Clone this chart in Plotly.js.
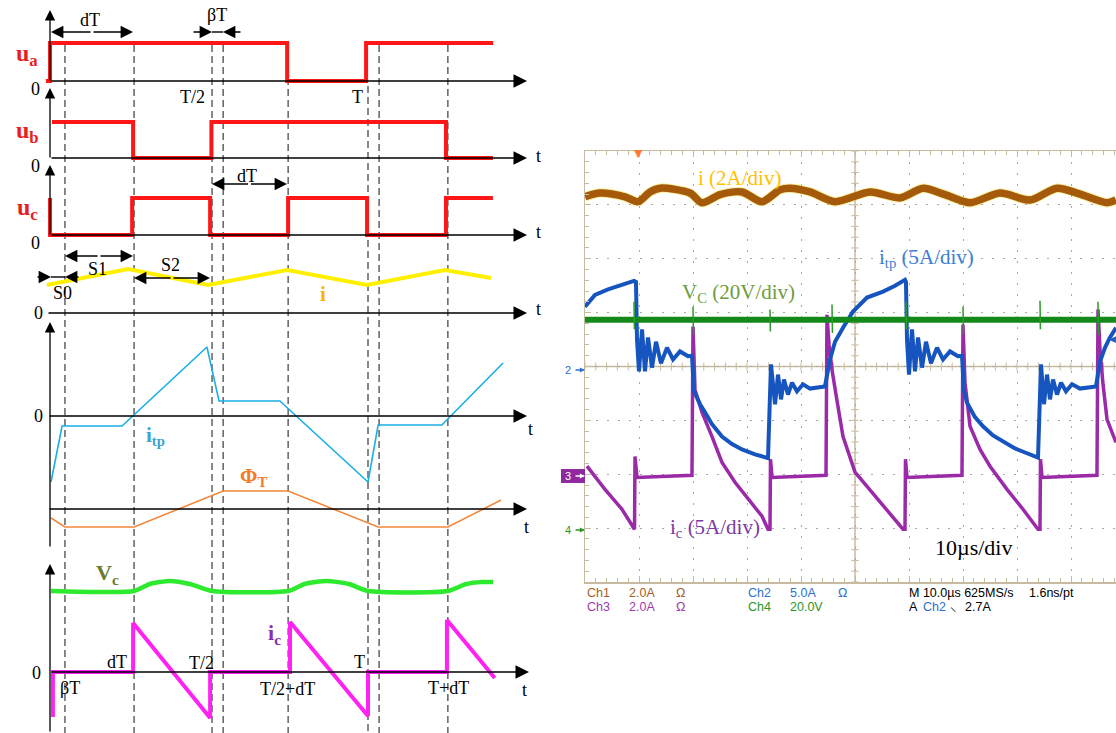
<!DOCTYPE html>
<html><head><meta charset="utf-8">
<script src="https://cdn.plot.ly/plotly-3.0.1.min.js"></script>
<style>html,body{margin:0;padding:0;background:#fff}#chart{width:1116px;height:733px}</style>
</head><body><div id="chart"></div>
<script>
// ===== Schematic timing diagram (time in units of the period T) =====
const markTimes = [0.044, 0.262, 0.508, 0.543, 0.748, 1.0, 1.035, 1.252];

const uaT = [-0.016, -0.003, -0.003, 0.745, 0.745, 0.994, 0.994, 1.395];
const uaV = [0, 0, 1, 1, 0, 0, 1, 1];
const ubT = [0.003, 0.259, 0.259, 0.506, 0.506, 1.246, 1.246, 1.394];
const ubV = [1, 1, 0, 0, 1, 1, 0, 0];
const ucT = [-0.003, -0.003, 0.256, 0.256, 0.502, 0.502, 0.748, 0.748, 0.997, 0.997, 1.246, 1.246, 1.394];
const ucV = [1, 0, 0, 1, 1, 0, 0, 1, 1, 0, 0, 1, 1];
const iT = [-0.013, 0.243, 0.495, 0.745, 0.997, 1.243, 1.388];
const iV = [2.8, 4.4, 2.8, 4.3, 2.8, 4.3, 3.5];
const itpT = [0, 0.035, 0.224, 0.492, 0.530, 0.722, 1.0, 1.032, 1.233, 1.426];
const itpV = [-6.6, -1.0, -1.0, 6.9, 1.5, 1.5, -6.6, -0.9, -0.9, 5.3];
const phiT = [0, 0.044, 0.262, 0.543, 0.748, 1.032, 1.252, 1.42];
const phiV = [-0.9, -1.8, -1.8, 1.8, 1.8, -1.8, -1.8, 0.9];
const vcT = [0, 0.262, 0.312, 0.375, 0.438, 0.508, 0.748, 0.80, 0.87, 0.94, 1.0, 1.252, 1.31, 1.36, 1.395];
const vcV = [0, 0, 0.7, 1.0, 0.7, 0, 0, 0.7, 1.0, 0.7, 0, 0, 0.7, 0.9, 0.9];
const icT = [0.006, 0.006, 0.259, 0.259, 0.502, 0.502, 0.754, 0.754, 1.0, 1.0, 1.249, 1.249, 1.40];
const icV = [-4.5, 0, 0, 4.9, -4.6, 0, 0, 5.0, -4.4, 0, 0, 5.2, -0.6];

// ===== Oscilloscope capture (time in µs, amplitude in divisions) =====
const chIT = [0, 2.78, 7.41, 9.81, 12.04, 13.89, 19.44, 21.67, 25.0, 29.07, 32.78, 36.11, 37.96, 41.67, 46.3, 52.78, 58.33, 62.59, 66.67, 71.3, 76.85, 82.41, 87.41, 91.67, 96.67, 98.33];
const chIV = [3.15, 3.22, 3.15, 3.06, 3.24, 3.31, 3.22, 3.04, 3.19, 3.24, 3.06, 3.28, 3.31, 3.24, 3.06, 3.24, 3.13, 3.31, 3.19, 3.04, 3.22, 3.09, 3.31, 3.2, 3.04, 3.09];

const chVcT = [0, 98.33];
const chVcV = [0.87, 0.87];
const chVcSpikeT = [9.07, 9.15, null, 20.0, 20.08, null, 34.26, 34.33, null, 45.74, 45.82, null, 59.44, 59.52, null, 70.0, 70.08, null, 84.26, 84.33, null, 95.0, 95.08];
const chVcSpikeV = [1.2, 0.69, null, 1.11, 0.59, null, 1.06, 0.65, null, 1.15, 0.62, null, 1.2, 0.69, null, 1.11, 0.59, null, 1.22, 0.69, null, 1.2, 0.59];

const chItpT = [0, 1.85, 4.26, 6.85, 9.07, 9.44, 9.63, 10.0, 10.56, 11.11, 11.67, 12.41, 13.15, 14.07, 15.19, 16.30, 17.59, 19.07, 19.81, 20.19, 21.30, 22.22, 23.52, 25.37, 27.22, 29.07, 31.48, 33.89, 34.44, 35.19, 35.74, 36.30, 36.85, 37.59, 38.33, 39.26, 40.37, 41.67, 44.44, 45.37, 46.30, 47.78, 49.63, 52.22, 55.19, 57.41, 59.26, 59.44, 59.63, 60.0, 60.56, 61.11, 61.67, 62.41, 63.15, 64.07, 65.19, 66.30, 67.59, 69.07, 69.81, 70.19, 70.74, 72.22, 73.70, 75.56, 77.41, 79.63, 81.85, 83.89, 84.44, 85.0, 85.56, 86.11, 86.67, 87.41, 88.15, 89.07, 90.19, 91.67, 94.63, 95.37, 96.30, 97.22, 98.33];
const chItpV = [1.11, 1.33, 1.43, 1.52, 1.59, 1.57, 0.50, -0.09, 0.69, -0.09, 0.54, -0.02, 0.46, 0.06, 0.35, 0.13, 0.28, 0.19, 0.20, -0.46, -0.70, -0.85, -1.07, -1.30, -1.44, -1.54, -1.63, -1.70, 0.04, -0.70, -0.15, -0.61, -0.24, -0.52, -0.30, -0.46, -0.33, -0.41, -0.37, 0.13, 0.46, 0.72, 1.02, 1.28, 1.39, 1.50, 1.61, 1.57, 0.50, -0.15, 0.69, -0.09, 0.54, -0.02, 0.46, 0.06, 0.35, 0.13, 0.28, 0.19, 0.20, -0.46, -0.67, -0.94, -1.11, -1.28, -1.39, -1.52, -1.61, -1.69, 0.04, -0.70, -0.15, -0.61, -0.24, -0.52, -0.30, -0.46, -0.33, -0.41, -0.37, 0.09, 0.35, 0.54, 0.72];

const chIcT = [0.37, 3.70, 6.85, 8.89, 9.17, 9.26, 9.63, 19.81, 20.0, 20.37, 21.67, 23.52, 25.37, 27.78, 30.19, 32.78, 33.89, 34.26, 34.35, 34.63, 44.63, 44.81, 45.19, 45.74, 46.48, 47.78, 50.0, 52.22, 55.19, 58.89, 59.26, 59.35, 59.63, 69.81, 70.0, 70.37, 71.30, 73.15, 75.0, 78.15, 81.11, 83.89, 84.26, 84.35, 84.63, 94.81, 95.0, 95.37, 95.93, 96.67, 98.33];
const chIcV = [-1.85, -2.28, -2.65, -2.98, -3.02, -1.67, -2.06, -2.02, 0.74, -0.43, -0.85, -1.30, -1.78, -2.15, -2.46, -2.78, -3.02, -3.02, -1.72, -2.06, -2.02, 0.96, 0.41, -0.06, -0.52, -1.30, -1.96, -2.22, -2.59, -3.02, -3.02, -1.72, -2.06, -2.02, 0.78, -0.30, -1.11, -1.54, -1.85, -2.28, -2.65, -3.02, -3.02, -1.72, -2.06, -2.02, 1.06, 0.31, -0.33, -0.98, -1.41];

// ===== layout helpers =====
const W = 1116, H = 733;
const PX = x => x / W;
const PY = y => 1 - y / H;
const tOf = px => (px - 51) / 317;          // left-diagram pixel -> time units
const rng = (y0, s) => [-(H - y0) / s, y0 / s]; // zero-line pixel, px per unit

const SERIF = 'Liberation Serif, Times New Roman, serif';
const SANS = 'Liberation Sans, Arial, sans-serif';

function line(x, y, yaxis, color, width, extra) {
  return Object.assign({type: 'scatter', mode: 'lines', x: x, y: y, xaxis: 'x', yaxis: yaxis,
    line: {color: color, width: width}, hoverinfo: 'skip'}, extra || {});
}
function sline(x, y, color, width, extra) {
  return Object.assign({type: 'scatter', mode: 'lines', x: x, y: y, xaxis: 'x2', yaxis: 'y9',
    line: {color: color, width: width}, hoverinfo: 'skip', connectgaps: false}, extra || {});
}

const traces = [
  line(uaT, uaV, 'y', '#FF1616', 4),
  line(ubT, ubV, 'y2', '#FF1616', 4),
  line(ucT, ucV, 'y3', '#FF1616', 4),
  line(iT, iV, 'y4', '#FFF000', 4),
  line(itpT, itpV, 'y5', '#1AAEE6', 1.6),
  line(phiT, phiV, 'y6', '#F2873A', 1.6),
  line(vcT, vcV, 'y7', '#2EEA2E', 4.5, {line: {color: '#2EEA2E', width: 4.5, shape: 'spline', smoothing: 0.6}}),
  line(icT, icV, 'y8', '#FF22F2', 4),
  sline(chIcT, chIcV, '#9A2AA8', 3.5),
  sline(chItpT, chItpV, '#1655C0', 4),
  sline(chVcT, chVcV, '#13891A', 6),
  sline(chVcSpikeT, chVcSpikeV, '#2A9A2A', 1.5),
  sline(chIT, chIV, 'rgba(235,215,0,0.35)', 9.5, {line: {color: 'rgba(235,215,0,0.35)', width: 9.5, shape: 'spline', smoothing: 0.8}}),
  sline(chIT, chIV, '#A4590B', 7.5, {line: {color: '#A4590B', width: 7.5, shape: 'spline', smoothing: 0.8}})
];

// ===== shapes =====
const shapes = [];
markTimes.forEach(t => {
  shapes.push({type: 'line', xref: 'x', yref: 'paper', x0: t, x1: t,
    y0: PY(t === 1.0 ? 86 : 45), y1: 0, layer: 'below',
    line: {color: '#3a3a3a', width: 1.2, dash: '7px,4px'}});
});
// connecting segments of inward-pointing dimension arrows
shapes.push({type: 'line', xref: 'x', yref: 'paper', x0: tOf(212), x1: tOf(223), y0: PY(32), y1: PY(32), line: {color: '#000', width: 1.4}});
shapes.push({type: 'line', xref: 'x', yref: 'paper', x0: tOf(51), x1: tOf(65), y0: PY(277), y1: PY(277), line: {color: '#000', width: 1.4}});

// oscilloscope centre cross with tick marks
const TAN = '#C7BB9F';
shapes.push({type: 'line', xref: 'x2', yref: 'y9', x0: 50, x1: 50, y0: -4, y1: 4, line: {color: TAN, width: 1.5}, layer: 'below'});
shapes.push({type: 'line', xref: 'x2', yref: 'y9', x0: 0, x1: 98.33, y0: 0, y1: 0, line: {color: TAN, width: 1.5}, layer: 'below'});
for (let k = -20; k <= 20; k++) {
  shapes.push({type: 'line', xref: 'x2', yref: 'y9', x0: 49.3, x1: 50.7, y0: k * 0.2, y1: k * 0.2, line: {color: TAN, width: 1}, layer: 'below'});
}
for (let k = 0; k <= 49; k++) {
  shapes.push({type: 'line', xref: 'x2', yref: 'y9', x0: k * 2, x1: k * 2, y0: -0.075, y1: 0.075, line: {color: TAN, width: 1}, layer: 'below'});
}
// channel-3 ground marker box
shapes.push({type: 'rect', xref: 'paper', yref: 'paper', x0: PX(561), x1: PX(585), y0: PY(483), y1: PY(469), fillcolor: '#8E2A9E', line: {width: 0}});

// ===== annotations =====
const ann = [];
function txt(x, y, text, size, color, opts) {
  ann.push(Object.assign({xref: 'paper', yref: 'paper', x: PX(x), y: PY(y), text: text, showarrow: false,
    font: {family: SERIF, size: size, color: color}, xanchor: 'center', yanchor: 'middle'}, opts || {}));
}
function harrow(tHead, tTail, ypx, size) {
  ann.push({xref: 'x', yref: 'paper', x: tHead, y: PY(ypx), axref: 'x', ax: tTail, ayref: 'pixel', ay: 0,
    text: '', showarrow: true, arrowhead: 2, arrowsize: size || 1.9, arrowwidth: 1.3, arrowcolor: '#000', standoff: 0, startstandoff: 0});
}
function dim(t0, t1, ypx) { const m = (t0 + t1) / 2; harrow(t0, m, ypx); harrow(t1, m, ypx); }
function axisH(yax, t0, t1) {
  ann.push({xref: 'x', yref: yax, x: t1, y: 0, axref: 'x', ax: t0, ayref: yax, ay: 0,
    text: '', showarrow: true, arrowhead: 2, arrowsize: 1.8, arrowwidth: 1.5, arrowcolor: '#000', standoff: 0, startstandoff: 0});
}
function axisV(tip, tail) {
  ann.push({xref: 'x', yref: 'paper', x: tOf(50), y: PY(tip), axref: 'pixel', ax: 0, ayref: 'pixel', ay: tail - tip,
    text: '', showarrow: true, arrowhead: 2, arrowsize: 1.6, arrowwidth: 1.3, arrowcolor: '#000', standoff: 0, startstandoff: 0});
}

// axes of the timing diagram
axisH('y', tOf(50), tOf(527));
axisH('y2', tOf(50), tOf(527));
axisH('y3', tOf(50), tOf(527));
axisH('y4', tOf(47), tOf(527));
axisH('y5', tOf(48), tOf(527));
axisH('y6', tOf(48), tOf(527));
axisH('y8', tOf(50), tOf(529));
axisV(10, 82); axisV(88, 159); axisV(165, 236); axisV(322, 548); axisV(564, 733);

// dimension arrows
dim(tOf(51), tOf(133), 32);
harrow(tOf(212), tOf(192), 32); harrow(tOf(223), tOf(242), 32);
dim(tOf(212), tOf(287), 184);
dim(tOf(65), tOf(133), 256);
dim(tOf(134), tOf(210), 278);
harrow(tOf(51), tOf(36), 277); harrow(tOf(65), tOf(80), 277);

// diagram labels
const RED = '#E81E26';
txt(27, 55, '<b>u<sub>a</sub></b>', 24, RED);
txt(27, 132, '<b>u<sub>b</sub></b>', 24, RED);
txt(27, 209, '<b>u<sub>c</sub></b>', 24, RED);
[[35, 89], [35, 166], [35, 243], [39, 313], [39, 416], [36, 673]].forEach(p => txt(p[0], p[1], '0', 18, '#000'));
txt(90, 20, 'dT', 18, '#000');
txt(217, 15, 'βT', 18, '#000');
txt(192, 97, 'T/2', 18, '#000');
txt(358, 97, 'T', 18, '#000');
txt(538, 156, 't', 18, '#000');
txt(538, 232, 't', 18, '#000');
txt(538, 309, 't', 18, '#000');
txt(530, 429, 't', 18, '#000');
txt(526, 527, 't', 18, '#000');
txt(524, 690, 't', 18, '#000');
txt(247, 176, 'dT', 18, '#000');
txt(97, 269, 'S1', 18, '#000');
txt(170, 265, 'S2', 18, '#000');
txt(62, 293, 'S0', 18, '#000');
txt(323, 294, '<b>i</b>', 21, '#FFB300');
txt(155, 436, '<b>i<sub>tp</sub></b>', 21, '#3AA6CF');
txt(253, 477, '<b>Φ<sub>T</sub></b>', 21, '#F07D28');
txt(107, 574, '<b>V<sub>c</sub></b>', 22, '#6B7A2E');
txt(274, 634, '<b>i<sub>c</sub></b>', 22, '#8A2BB0');
txt(117, 662, 'dT', 18, '#000');
txt(201, 663, 'T/2', 18, '#000');
txt(70, 688, 'βT', 18, '#000');
txt(287, 689, 'T/2+dT', 18, '#000');
txt(359, 662, 'T', 18, '#000');
txt(448, 688, 'T+dT', 18, '#000');

// oscilloscope overlay labels
txt(739, 178, 'i (2A/div)', 21, '#FFBF00');
txt(926, 258, 'i<sub>tp</sub> (5A/div)', 21, '#3D7ED6');
txt(738, 293, 'V<sub>C</sub> (20V/div)', 21, '#6E9C3C');
txt(715, 528, 'i<sub>c</sub> (5A/div)', 21, '#7B3AA6');
txt(973, 547, '10µs/div', 22, '#000');

// oscilloscope status read-out
function st(x, y, text, color) {
  ann.push({xref: 'paper', yref: 'paper', x: PX(x), y: PY(y), text: text, showarrow: false,
    font: {family: SANS, size: 12.5, color: color}, xanchor: 'left', yanchor: 'middle'});
}
const BR = '#A5622A', BL = '#2C6FD0', PU = '#A03AB0', GR = '#2A962A';
st(585, 593, 'Ch1', BR); st(627, 593, '2.0A', BR); st(674, 593, 'Ω', BR);
st(746, 593, 'Ch2', BL); st(788, 593, '5.0A', BL); st(836, 593, 'Ω', BL);
st(907, 593, 'M 10.0µs 625MS/s', '#000'); st(1027, 593, '1.6ns/pt', '#000');
st(585, 607, 'Ch3', PU); st(627, 607, '2.0A', PU); st(674, 607, 'Ω', PU);
st(746, 607, 'Ch4', GR); st(788, 607, '20.0V', GR);
st(907, 607, 'A', '#000'); st(921, 607, 'Ch2', BL); st(948, 607, '⸜', '#000'); st(963, 607, '2.7A', '#000');

// channel markers at the left edge of the screen
function chMark(ypx, label, textColor) {
  txt(568, ypx, label, 11, textColor, {font: {family: SANS, size: 11, color: textColor}});
  ann.push({xref: 'paper', yref: 'paper', x: PX(585), y: PY(ypx), axref: 'pixel', ax: -11, ayref: 'pixel', ay: 0,
    text: '', showarrow: true, arrowhead: 2, arrowsize: 0.8, arrowwidth: 1.3, arrowcolor: textColor, standoff: 0});
}
chMark(370, '2', BL);
chMark(476, '3', '#FFFFFF');
chMark(530, '4', GR);
txt(638, 153, '▼', 11, '#FF7A33', {font: {family: 'DejaVu Sans', size: 11, color: '#FF7A33'}});
txt(1112, 339, '◀', 9, '#1E5CC8', {font: {family: 'DejaVu Sans', size: 9, color: '#1E5CC8'}});

// ===== layout =====
const hidden = {visible: false, fixedrange: true};
const layout = {
  width: W, height: H,
  margin: {l: 0, r: 0, t: 0, b: 0, pad: 0},
  paper_bgcolor: '#ffffff', plot_bgcolor: 'rgba(0,0,0,0)',
  showlegend: false,
  xaxis: Object.assign({domain: [0, 0.5], range: [tOf(0), tOf(558)], anchor: 'y'}, hidden),
  yaxis: Object.assign({domain: [0, 1], range: rng(81, 38), anchor: 'x'}, hidden),
  yaxis2: Object.assign({overlaying: 'y', anchor: 'x', range: rng(158, 36)}, hidden),
  yaxis3: Object.assign({overlaying: 'y', anchor: 'x', range: rng(235, 37)}, hidden),
  yaxis4: Object.assign({overlaying: 'y', anchor: 'x', range: rng(313, 10)}, hidden),
  yaxis5: Object.assign({overlaying: 'y', anchor: 'x', range: rng(416, 10)}, hidden),
  yaxis6: Object.assign({overlaying: 'y', anchor: 'x', range: rng(509, 10)}, hidden),
  yaxis7: Object.assign({overlaying: 'y', anchor: 'x', range: rng(591, 10)}, hidden),
  yaxis8: Object.assign({overlaying: 'y', anchor: 'x', range: rng(672, 10)}, hidden),
  xaxis2: {
    domain: [PX(585), 1], range: [0, (W - 585) / 5.4], anchor: 'y9', fixedrange: true,
    showgrid: true, gridcolor: '#A8A8A8', gridwidth: 1, griddash: '2px,9px', dtick: 10, tick0: 0,
    zeroline: false, showline: true, mirror: 'allticks', linecolor: TAN, linewidth: 1.5,
    ticks: 'inside', ticklen: 6, tickcolor: TAN, tickwidth: 1, showticklabels: false,
    minor: {dtick: 2, ticks: 'inside', ticklen: 4, tickcolor: TAN, showgrid: false}
  },
  yaxis9: {
    domain: [PY(582), PY(151)], range: [-4, 4], anchor: 'x2', fixedrange: true,
    showgrid: true, gridcolor: '#A8A8A8', gridwidth: 1, griddash: '2px,9px', dtick: 1, tick0: 0,
    zeroline: false, showline: true, mirror: false, linecolor: TAN, linewidth: 1.5,
    ticks: 'inside', ticklen: 6, tickcolor: TAN, tickwidth: 1, showticklabels: false,
    minor: {dtick: 0.2, ticks: 'inside', ticklen: 4, tickcolor: TAN, showgrid: false}
  },
  shapes: shapes,
  annotations: ann
};

Plotly.newPlot('chart', traces, layout, {staticPlot: true, displayModeBar: false});
</script>
</body></html>
